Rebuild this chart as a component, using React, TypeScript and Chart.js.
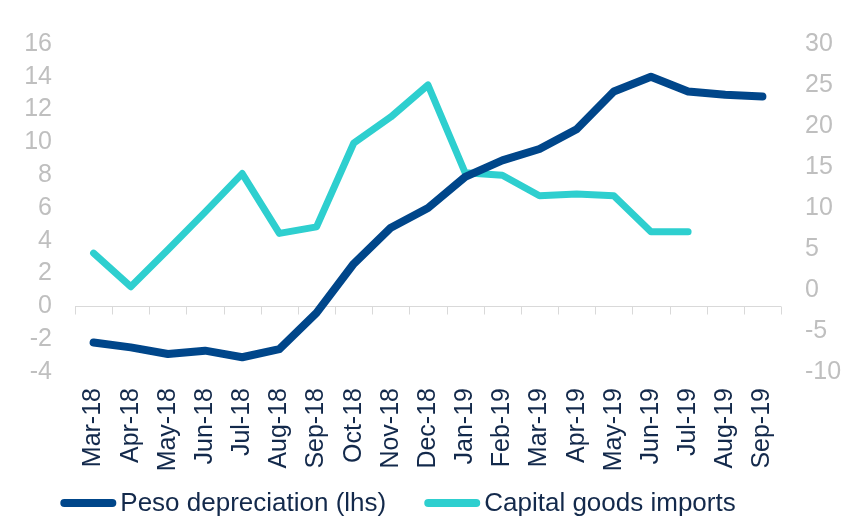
import React, { useEffect, useRef } from "react";
import { Chart, registerables } from "chart.js";

Chart.register(...registerables);

const categories = [
  "Mar-18", "Apr-18", "May-18", "Jun-18", "Jul-18", "Aug-18", "Sep-18", "Oct-18", "Nov-18", "Dec-18",
  "Jan-19", "Feb-19", "Mar-19", "Apr-19", "May-19", "Jun-19", "Jul-19", "Aug-19", "Sep-19",
];
const pesoDepreciation = [
  -2.2, -2.5, -2.9, -2.7, -3.1, -2.6, -0.4, 2.6, 4.8, 6.0,
  7.9, 8.9, 9.6, 10.8, 13.1, 14.0, 13.1, 12.9, 12.8,
];
const capitalGoodsImports: (number | null)[] = [
  4.5, 0.4, 4.9, 9.5, 14.2, 6.9, 7.7, 17.9, 21.1, 25.0,
  14.3, 14.0, 11.5, 11.7, 11.5, 7.1, 7.1, null, null,
];
const seriesNames = ["Peso depreciation (lhs)", "Capital goods imports"];
const leftAxisRange = [-4, 16, 2];
const rightAxisRange = [-10, 30, 5];

const NAVY = "#00468a";
const TEAL = "#2ecfcf";
const TEXT_DARK = "#13294b";
const TICK_GRAY = "#bfbfbf";
const FONT = "'Liberation Sans', Arial, sans-serif";

const zeroAxisPlugin = {
  id: "zeroAxis",
  beforeDatasetsDraw(chart: any) {
    const { ctx, chartArea, scales } = chart;
    const y = Math.round(scales.y.getPixelForValue(0)) + 0.5;
    const xs = scales.x;
    const n = categories.length;
    ctx.save();
    ctx.strokeStyle = "#d9d9d9";
    ctx.lineWidth = 1;
    ctx.beginPath();
    ctx.moveTo(chartArea.left, y);
    ctx.lineTo(chartArea.right, y);
    for (let i = 0; i <= n; i++) {
      let x: number;
      if (i === 0) x = chartArea.left;
      else if (i === n) x = chartArea.right;
      else x = (xs.getPixelForTick(i - 1) + xs.getPixelForTick(i)) / 2;
      x = Math.round(x) + 0.5;
      ctx.moveTo(x, y);
      ctx.lineTo(x, y + 8);
    }
    ctx.stroke();
    ctx.restore();
  },
};

const legendPlugin = {
  id: "customLegend",
  afterDraw(chart: any) {
    const { ctx } = chart;
    const ds = chart.data.datasets;
    ctx.save();
    ctx.font = `26px ${FONT}`;
    const sample = 56;
    const gap = 4;
    const itemGap = 38;
    const widths = ds.map((d: any) => ctx.measureText(d.label).width);
    let total = 0;
    widths.forEach((w: number, i: number) => {
      total += sample + gap + w + (i < widths.length - 1 ? itemGap : 0);
    });
    let x = 398 - total / 2;
    const lineY = 503;
    ds.forEach((d: any, i: number) => {
      ctx.strokeStyle = d.borderColor;
      ctx.lineWidth = 8;
      ctx.lineCap = "round";
      ctx.beginPath();
      ctx.moveTo(x + 4, lineY);
      ctx.lineTo(x + sample - 4, lineY);
      ctx.stroke();
      ctx.fillStyle = TEXT_DARK;
      ctx.textBaseline = "alphabetic";
      ctx.textAlign = "left";
      ctx.fillText(d.label, x + sample + gap, 511);
      x += sample + gap + widths[i] + itemGap;
    });
    ctx.restore();
  },
};

export default function App() {
  const canvasRef = useRef<HTMLCanvasElement | null>(null);

  useEffect(() => {
    if (!canvasRef.current) return;
    const chart = new Chart(canvasRef.current, {
      type: "line",
      data: {
        labels: categories,
        datasets: [
          {
            label: seriesNames[0],
            data: pesoDepreciation,
            borderColor: NAVY,
            backgroundColor: NAVY,
            borderWidth: 8,
            borderCapStyle: "round",
            borderJoinStyle: "round",
            pointRadius: 0,
            tension: 0,
            yAxisID: "y",
          },
          {
            label: seriesNames[1],
            data: capitalGoodsImports,
            borderColor: TEAL,
            backgroundColor: TEAL,
            borderWidth: 7,
            borderCapStyle: "round",
            borderJoinStyle: "round",
            pointRadius: 0,
            tension: 0,
            yAxisID: "y1",
          },
        ],
      },
      options: {
        animation: false,
        responsive: true,
        maintainAspectRatio: false,
        layout: { padding: { top: 44, left: 0, right: 0, bottom: 40 } },
        plugins: {
          legend: { display: false },
          tooltip: { enabled: false },
        },
        scales: {
          x: {
            type: "category",
            offset: true,
            grid: { display: false, drawTicks: false },
            border: { display: false },
            ticks: {
              autoSkip: false,
              minRotation: 90,
              maxRotation: 90,
              padding: 16,
              color: TEXT_DARK,
              font: { family: FONT, size: 25 },
            },
            afterFit(scale: any) {
              scale.height = 104;
            },
          },
          y: {
            position: "left",
            min: leftAxisRange[0],
            max: leftAxisRange[1],
            grid: { display: false, drawTicks: false },
            border: { display: false },
            ticks: {
              stepSize: leftAxisRange[2],
              autoSkip: false,
              padding: 23,
              color: TICK_GRAY,
              font: { family: FONT, size: 25 },
            },
            afterFit(scale: any) {
              scale.width = 75;
            },
          },
          y1: {
            position: "right",
            min: rightAxisRange[0],
            max: rightAxisRange[1],
            grid: { display: false, drawTicks: false },
            border: { display: false },
            ticks: {
              stepSize: rightAxisRange[2],
              autoSkip: false,
              padding: 24,
              color: TICK_GRAY,
              font: { family: FONT, size: 25 },
            },
            afterFit(scale: any) {
              scale.width = 73;
            },
          },
        },
      },
      plugins: [zeroAxisPlugin, legendPlugin],
    });
    return () => chart.destroy();
  }, []);

  return (
    <div style={{ position: "fixed", left: 0, top: 0, width: 854, height: 516, background: "#fff" }}>
      <canvas ref={canvasRef} />
    </div>
  );
}
